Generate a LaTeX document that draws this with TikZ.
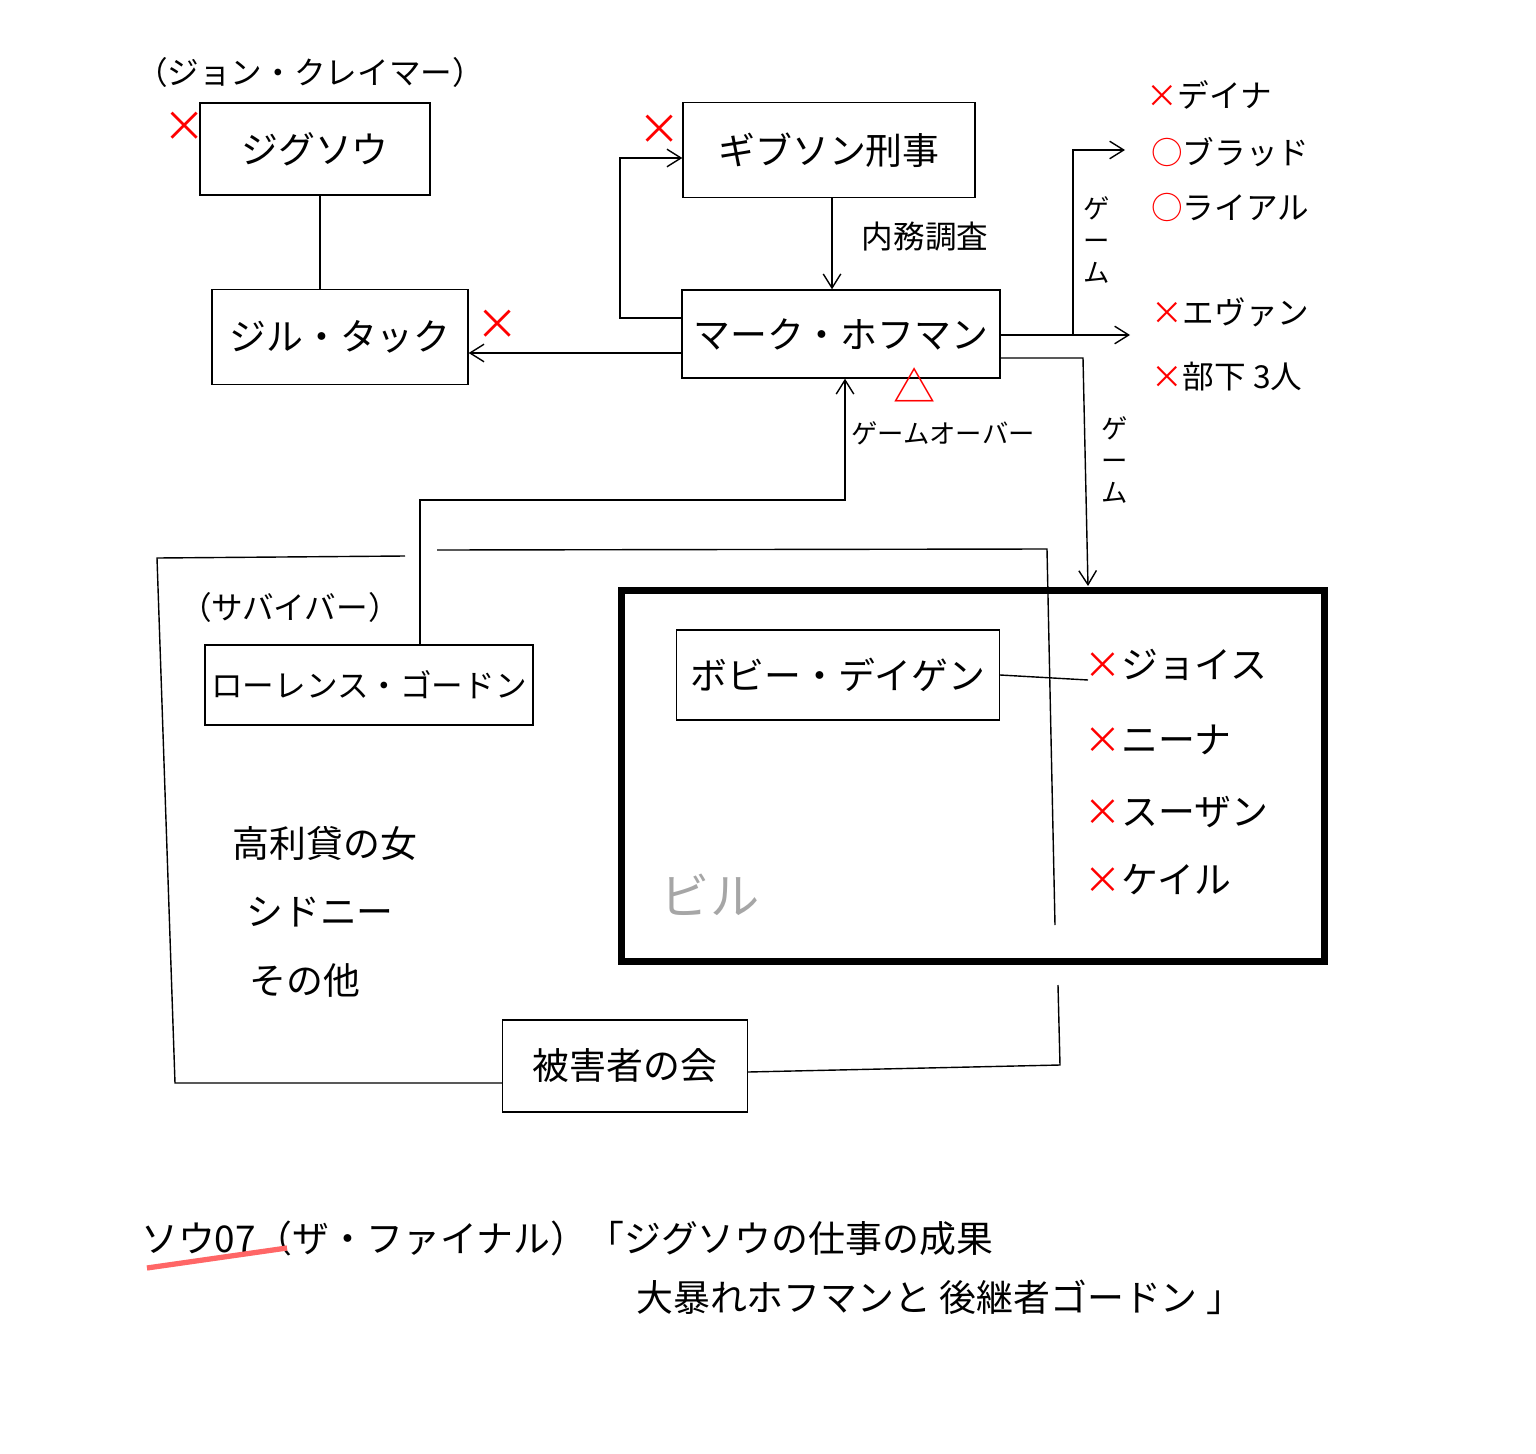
\documentclass[tikz,border=0pt]{standalone}
\usepackage{fontspec}
\setmainfont{Noto Sans CJK JP}
\usetikzlibrary{arrows.meta}
\tikzset{
  person/.style={rectangle, draw, thick, inner sep=0pt, font=\fontsize{21}{25}\selectfont},
  note/.style={font=\fontsize{18}{22}\selectfont},
  redmark/.style={text=red, font=\fontsize{24}{28}\selectfont},
  arr/.style={->, >={Straight Barb[length=8pt,width=10pt]}, thick}
}
\begin{document}
\begin{tikzpicture}[x=0.02cm, y=-0.02cm]
  \useasboundingbox (0,0) rectangle (1536,1454);
  % Nodes
  \node (jigsaw) [person, minimum width=4.6cm, minimum height=1.84cm] at (315,149) {ジグソウ};
  \node (jill) [person, minimum width=5.12cm, minimum height=1.9cm] at (340,337) {ジル・タック};
  \node (gibson) [person, minimum width=5.84cm, minimum height=1.9cm] at (829,150) {ギブソン刑事};
  \node (hoffman) [person, minimum width=6.36cm, minimum height=1.76cm] at (841,334) {マーク・ホフマン};
  \node (lawrence) [person, font=\fontsize{18}{22}\selectfont, minimum width=6.56cm, minimum height=1.6cm] at (369,685) {ローレンス・ゴードン};
  \node (bobby) [person, minimum width=6.46cm, minimum height=1.8cm] at (838,675) {ボビー・デイゲン};
  \node (victims) [person, minimum width=4.9cm, minimum height=1.84cm] at (625,1066) {被害者の会};
  \node (bill) [draw, line width=4pt, minimum width=14.06cm, minimum height=7.44cm] at (973,776) {};
  \node (billlabel) [text=gray!70, font=\fontsize{28}{32}\selectfont] at (710,895) {ビル};
  % Labels
  \node (john) [note] at (310,72) {（ジョン・クレイマー）};
  \node (survivor) [note] at (290,607) {（サバイバー）};
  \node (internal) [note] at (925,237) {内務調査};
  \node (gameover) [note, font=\fontsize{15}{18}\selectfont] at (943,433) {ゲームオーバー};
  \node (game1) [note, align=center, font=\fontsize{15}{18}\selectfont] at (1097,240) {ゲ\\ー\\ム};
  \node (game2) [note, align=center, font=\fontsize{15}{18}\selectfont] at (1115,460) {ゲ\\ー\\ム};
  \node (loan) [note, font=\fontsize{21}{25}\selectfont] at (325,843) {高利貸の女};
  \node (sidney) [note, font=\fontsize{21}{25}\selectfont] at (320,912) {シドニー};
  \node (others) [note, font=\fontsize{21}{25}\selectfont] at (305,980) {その他};
  % Game results
  \node (dina) [note, anchor=west] at (1140,95) {\textcolor{red}{×}デイナ};
  \node (brad) [note, anchor=west] at (1145,152) {\textcolor{red}{○}ブラッド};
  \node (lyle) [note, anchor=west] at (1145,207) {\textcolor{red}{○}ライアル};
  \node (evan) [note, anchor=west] at (1145,312) {\textcolor{red}{×}エヴァン};
  \node (men) [note, anchor=west] at (1145,377) {\textcolor{red}{×}部下 3人};
  \node (joyce) [note, anchor=west, font=\fontsize{21}{25}\selectfont] at (1078,665) {\textcolor{red}{×}ジョイス};
  \node (nina) [note, anchor=west, font=\fontsize{21}{25}\selectfont] at (1078,740) {\textcolor{red}{×}ニーナ};
  \node (susan) [note, anchor=west, font=\fontsize{21}{25}\selectfont] at (1078,812) {\textcolor{red}{×}スーザン};
  \node (kale) [note, anchor=west, font=\fontsize{21}{25}\selectfont] at (1078,880) {\textcolor{red}{×}ケイル};
  % Marks
  \node (xjigsaw) [redmark] at (185,127) {×};
  \node (xjill) [redmark] at (498,325) {×};
  \node (xgibson) [redmark] at (660,130) {×};
  \node (thoffman) [redmark] at (915,385) {△};
  % Title
  \node (title1) [note, anchor=west, font=\fontsize{21}{25}\selectfont] at (135,1238) {ソウ07（ザ・ファイナル）「ジグソウの仕事の成果};
  \node (title2) [note, anchor=west, font=\fontsize{21}{25}\selectfont] at (630,1297) {大暴れホフマンと 後継者ゴードン 」};
  \draw[red!60, line width=3pt] (147,1268) -- (287,1248);
  % Arrow
  \draw[thick] (jigsaw.south -| 320,0) -- (jill.north -| 320,0);
  \draw[arr] (gibson.south -| 832,0) -- (hoffman.north -| 832,0);
  \draw[arr] (hoffman.west |- 0,318) -- (620,318) |- (gibson.west |- 0,158);
  \draw[arr] (hoffman.west |- 0,353) -- (jill.east |- 0,353);
  \draw[arr] (hoffman.east |- 0,335) -- (1130,335);
  \draw[arr] (1073,335) |- (1125,150);
  \draw[arr] (hoffman.east |- 0,358) -- (1083,358) -- (1088,586);
  \draw[arr] (lawrence.north -| 420,0) |- (845,500) -- (hoffman.south -| 845,0);
  \draw[thick] (bobby.east) -- (1088,680);
  % Survivors group
  \draw[thick] (405,556) -- (157,558) -- (175,1083) -- (victims.west |- 0,1083);
  \draw[thick] (437,550) -- (1047,549) -- (1055,925);
  \draw[thick] (1058,985) -- (1060,1065) -- (victims.east |- 0,1072);
\end{tikzpicture}
\end{document}
